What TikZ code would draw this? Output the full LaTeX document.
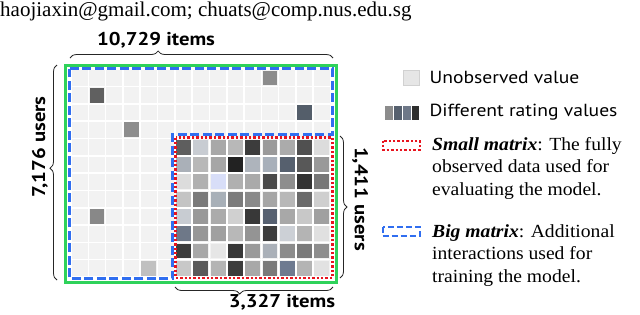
\documentclass[tikz,border=0pt]{standalone}
\usepackage{fontspec}
\setsansfont{PT Sans}[FakeStretch=1.12]
\newfontfamily\headfont{Liberation Serif}
\newfontfamily\palfont{Liberation Serif}[FakeStretch=1.06]
\usetikzlibrary{decorations.pathreplacing}
\definecolor{cellbg}{HTML}{F2F2F2}
\definecolor{grn}{HTML}{2ED25A}
\definecolor{blu}{HTML}{306EF0}
\definecolor{rd}{HTML}{E8141E}
\definecolor{barA}{HTML}{8C8C8C}
\definecolor{barB}{HTML}{56606E}
\definecolor{barC}{HTML}{6E7888}
\definecolor{barD}{HTML}{2E2E2E}
\tikzset{
  bracestyle/.style={decorate,decoration={brace,amplitude=7pt,aspect=#1},line width=0.8pt,draw=black!85},
  biglabel/.style={font=\sffamily\bfseries\fontsize{18.5}{21}\selectfont},
  leglabel/.style={font=\sffamily\fontsize{17.5}{20}\selectfont,anchor=west},
  sertext/.style={font=\palfont\fontsize{18.5}{22.7}\selectfont,align=left,anchor=north west,inner sep=0pt},
  greenbox/.style={draw=grn,line width=3pt},
  bluebox/.style={draw=blu,line width=2.6pt,dash pattern=on 9pt off 3.5pt},
  redbox/.style={draw=rd,line width=2.6pt,dash pattern=on 2.4pt off 2pt},
}
\begin{document}
\begin{tikzpicture}[x=1pt,y=-1pt]
\useasboundingbox (0,0) rectangle (640,314);
\fill[white] (0,0) rectangle (640,314);
% header text
\node[anchor=base west,inner sep=0pt,font=\headfont\fontsize{21}{24}\selectfont] (head) at (0,16.5) {haojiaxin@gmail.com; chuats@comp.nus.edu.sg};
% empty cells
\foreach \i in {0,...,14}{
  \foreach \j in {0,...,11}{
    \fill[cellbg] ({71+17.3*\i+0.8},{69.3+17.3*\j+0.8}) rectangle ++(15.7,15.7);
  }
}
% sparse observed cells in big matrix
\foreach \i/\j/\c in {11/0/8C8C8C,1/1/606060,13/2/545E6A,3/3/8E8E8E,1/8/888888,4/11/C0C0C0}{
  \definecolor{tmpc}{HTML}{\c}
  \fill[tmpc] ({71+17.3*\i+1.2},{69.3+17.3*\j+1.2}) rectangle ++(14.9,14.9);
}
% small matrix cells
\foreach \c [count=\k from 0] in {
 5E5E5E,C8CCD2,A8A8A8,B8B8B8,3C3C3C,9A9A9A,ABABAB,505050,DCDCDC,
 AAB0B8,B8B8B8,A6A6A6,222222,AEB4BC,A8B0BA,56606E,585858,999999,
 DCDCDC,B0B0B0,D8DEF8,B0B0B0,AAAAAA,4A4A4A,8E8E8E,333333,777777,
 C4C4C4,7A7A7A,A8B0B8,7C7C7C,8A8A8A,A6A6A6,B8B8B8,6A6A6A,CFCFCF,
 C8CCD2,999999,ABABAB,D0D0D0,383838,566070,A8A8A8,C8C8C8,A0A0A0,
 6E7888,979797,A0A0A0,B8B8B8,949494,3C3C3C,CCD0D6,B4B4B4,E0E0E0,
 3C3C3C,A8A8A8,E6E6E6,383838,9A9A9A,AAB0B8,8C8C8C,7A7A7A,8E8E8E,
 C8C8C8,5A5A5A,B4B4B4,3C3C3C,A8A8A8,7A7A7A,6E7A90,B4B4B4,E2E2E2}{
  \pgfmathtruncatemacro\ci{6+mod(\k,9)}
  \pgfmathtruncatemacro\rj{4+int(\k/9)}
  \definecolor{tmpc}{HTML}{\c}
  \fill[tmpc] ({71+17.3*\ci+1.2},{69.3+17.3*\rj+1.2}) rectangle ++(14.9,14.9);
}
% frames
\draw[greenbox] (65.5,65.5) rectangle (336.5,282);
\draw[bluebox] (69.5,68.5) -- (332.5,68.5) -- (332.5,134.5) -- (172.5,134.5) -- (172.5,278.5) -- (69.5,278.5) -- cycle;
\draw[redbox] (175.5,137.5) rectangle (332.5,278);
% braces and labels
\coordinate (tb1) at (70,58); \coordinate (tb2) at (333,58);
\draw[bracestyle=0.335] (tb1) -- (tb2);
\node[biglabel] (items1) at (156,40) {10,729 items};
\coordinate (lb1) at (57,280); \coordinate (lb2) at (57,65);
\draw[bracestyle=0.52] (lb1) -- (lb2);
\node[biglabel,rotate=90] (users1) at (40,147) {7,176 users};
\coordinate (rb1) at (340,136); \coordinate (rb2) at (340,278);
\draw[bracestyle=0.5] (rb1) -- (rb2);
\node[biglabel,rotate=-90] (users2) at (360,199) {1,411 users};
\coordinate (bb1) at (333,287); \coordinate (bb2) at (175,287);
\draw[bracestyle=0.59] (bb1) -- (bb2);
\node[biglabel] (items2) at (282,302) {3,327 items};
% legend
\fill[cellbg!95!black] (403,70) rectangle (419,85);
\draw[black!18,line width=0.5pt] (403,70) rectangle (419,85);
\node[leglabel] (l1) at (426,77) {Unobserved value};
\fill[barA] (385,106) rectangle (392.5,120);
\fill[barB] (394,106) rectangle (401.5,120);
\fill[barC] (403,106) rectangle (410.5,120);
\fill[barD] (412,106) rectangle (419,120);
\node[leglabel] (l2) at (426,112) {Different rating values};
\draw[redbox,line width=2pt] (382.5,140.5) rectangle (419.5,149.5);
\node[sertext] (l3) at (432,137) {\textbf{\textit{Small matrix}}: The fully\\observed data used for\\evaluating the model.};
\draw[bluebox,line width=2pt,dash pattern=on 6pt off 3pt] (382.5,226.5) rectangle (419.5,235.5);
\node[sertext] (l4) at (432,224) {\textbf{\textit{Big matrix}}: Additional\\interactions used for\\training the model.};
\end{tikzpicture}
\end{document}
